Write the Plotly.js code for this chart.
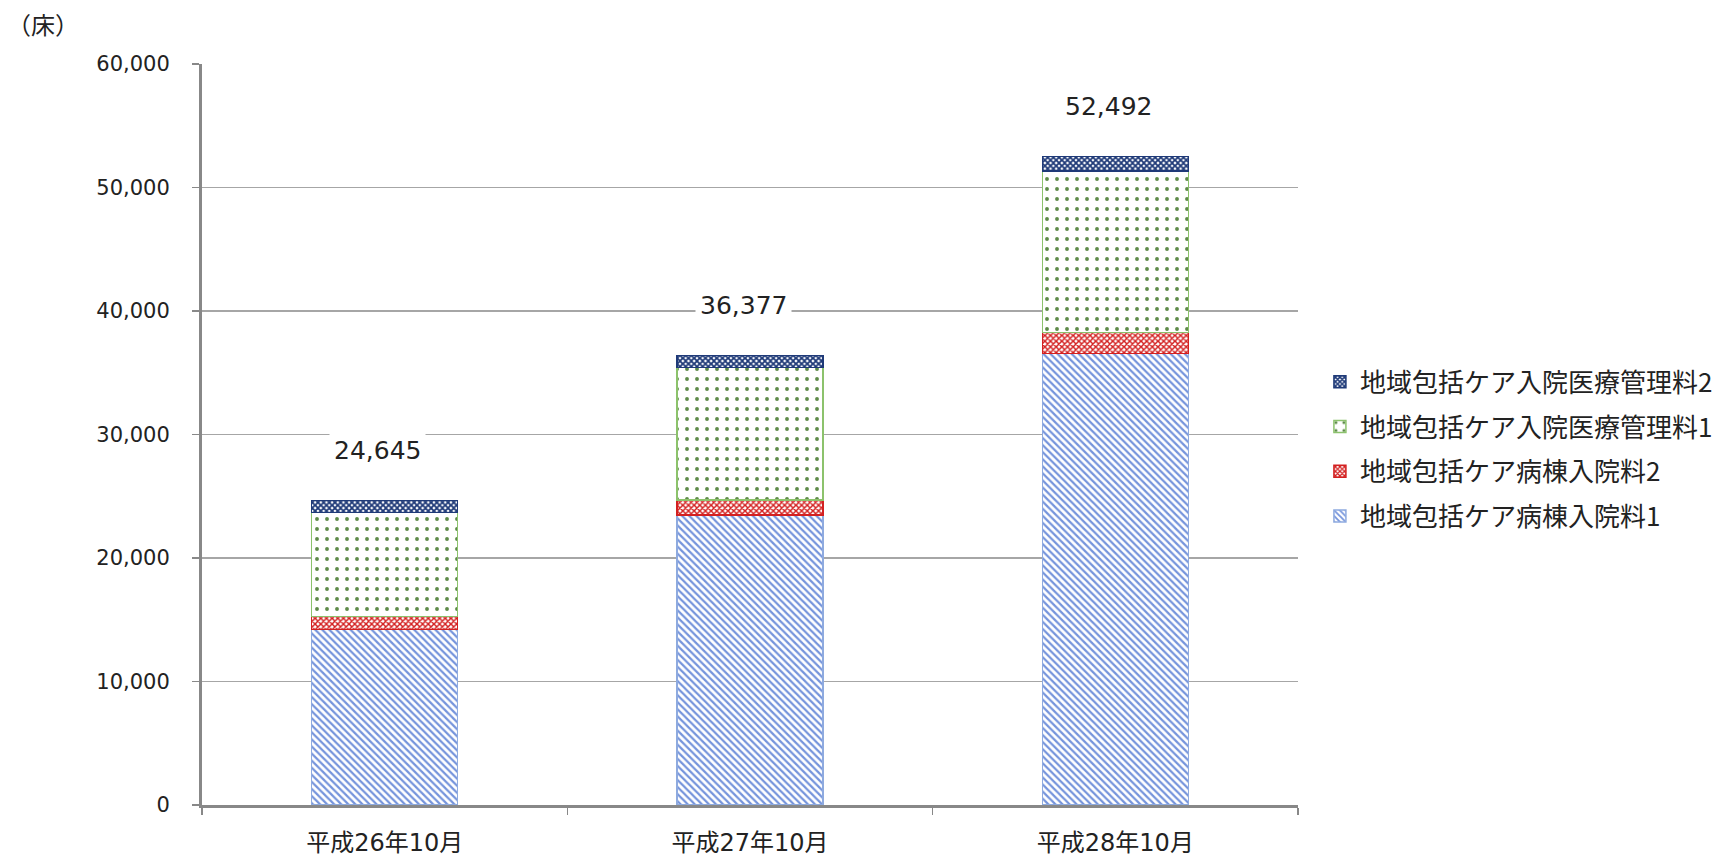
<!DOCTYPE html>
<html><head><meta charset="utf-8">
<script src="https://cdn.plot.ly/plotly-3.0.1.min.js"></script>
<style>html,body{margin:0;padding:0;background:#fff}#c{width:1735px;height:856px}</style>
</head><body><div id="c"></div>
<script>
const categories = ["平成26年10月", "平成27年10月", "平成28年10月"];
const ward1 = [14200, 23500, 36565];      // 地域包括ケア病棟入院料1
const ward2 = [1050, 1190, 1700];         // 地域包括ケア病棟入院料2
const mgmt1 = [8450, 10740, 13069];       // 地域包括ケア入院医療管理料1
const mgmt2 = [945, 947, 1158];           // 地域包括ケア入院医療管理料2
const totals = [24645, 36377, 52492];
const totalLabels = ["24,645", "36,377", "52,492"];
const seriesNames = ["地域包括ケア病棟入院料1", "地域包括ケア病棟入院料2", "地域包括ケア入院医療管理料1", "地域包括ケア入院医療管理料2"];
const yTicks = [0, 10000, 20000, 30000, 40000, 50000, 60000];
const yTickLabels = ["0", "10,000", "20,000", "30,000", "40,000", "50,000", "60,000"];

const font = '"DejaVu Sans", "Noto Sans CJK JP", sans-serif';
const cjk = '"Noto Sans CJK JP", sans-serif';
function mk(name, y, fg, line, shape, size, sol, grp, rank) {
  return {
    type: 'bar', name: name, x: categories, y: y, legendgroup: grp, legendrank: rank,
    marker: { color: '#ffffff', line: { color: line, width: 1.5 },
      pattern: { shape: shape, fgcolor: fg, bgcolor: '#ffffff', size: size, solidity: sol, fillmode: 'replace' } },
    hoverinfo: 'x+y'
  };
}
const traces = [
  mk(seriesNames[0], ward1, '#7594dc', '#8eaadf', '\\', 5, 0.45, 'g1', 4),
  mk(seriesNames[1], ward2, '#d32020', '#d32020', 'x', 4, 0.6, 'g2', 3),
  mk(seriesNames[2], mgmt1, '#5d8a48', '#8cc26c', '.', 10, 0.12, 'g3', 2),
  mk(seriesNames[3], mgmt2, '#1f3a78', '#1f3a78', 'x', 4, 0.7, 'g4', 1)
];
const annotations = categories.map((c, i) => ({
  x: c, y: totals[i], xref: 'x', yref: 'y', text: totalLabels[i], showarrow: false,
  yanchor: 'bottom', yshift: 31, xshift: -7, bgcolor: '#ffffff', borderpad: 4,
  font: { family: font, size: 25, color: '#222' }
}));
annotations.push({ xref: 'paper', yref: 'paper', x: -0.18, y: 1.054, xanchor: 'left', yanchor: 'middle',
  text: '（床）', showarrow: false, font: { family: cjk, size: 24, color: '#222' } });

const layout = {
  width: 1735, height: 856, paper_bgcolor: '#fff', plot_bgcolor: '#fff',
  margin: { l: 202, r: 437, t: 64, b: 51 },
  barmode: 'stack', bargap: 0.6,
  font: { family: font, color: '#222' },
  xaxis: { showline: true, linecolor: '#888', linewidth: 2.5, ticks: 'outside', tickson: 'boundaries',
    ticklen: 7, tickcolor: '#888', tickwidth: 1.5, tickfont: { family: font, size: 24, color: '#222' },
    ticklabelstandoff: 15, showgrid: false, fixedrange: true },
  yaxis: { range: [0, 60000], tickvals: yTicks, ticktext: yTickLabels, showline: true, linecolor: '#888', linewidth: 3,
    ticks: 'outside', ticklen: 7, tickcolor: '#888', tickwidth: 1.5, showgrid: true, gridcolor: '#a6a6a6', gridwidth: 1.5,
    tickfont: { family: font, size: 21, color: '#222' }, ticklabelstandoff: 18, zeroline: false, fixedrange: true },
  legend: { x: 1.02, y: 0.48, xanchor: 'left', yanchor: 'middle', traceorder: 'grouped',
    font: { family: cjk, size: 26, color: '#222' }, itemwidth: 30, tracegroupgap: 8 },
  annotations: annotations, showlegend: true
};
Plotly.newPlot('c', traces, layout, { displayModeBar: false, staticPlot: true });
</script></body></html>
